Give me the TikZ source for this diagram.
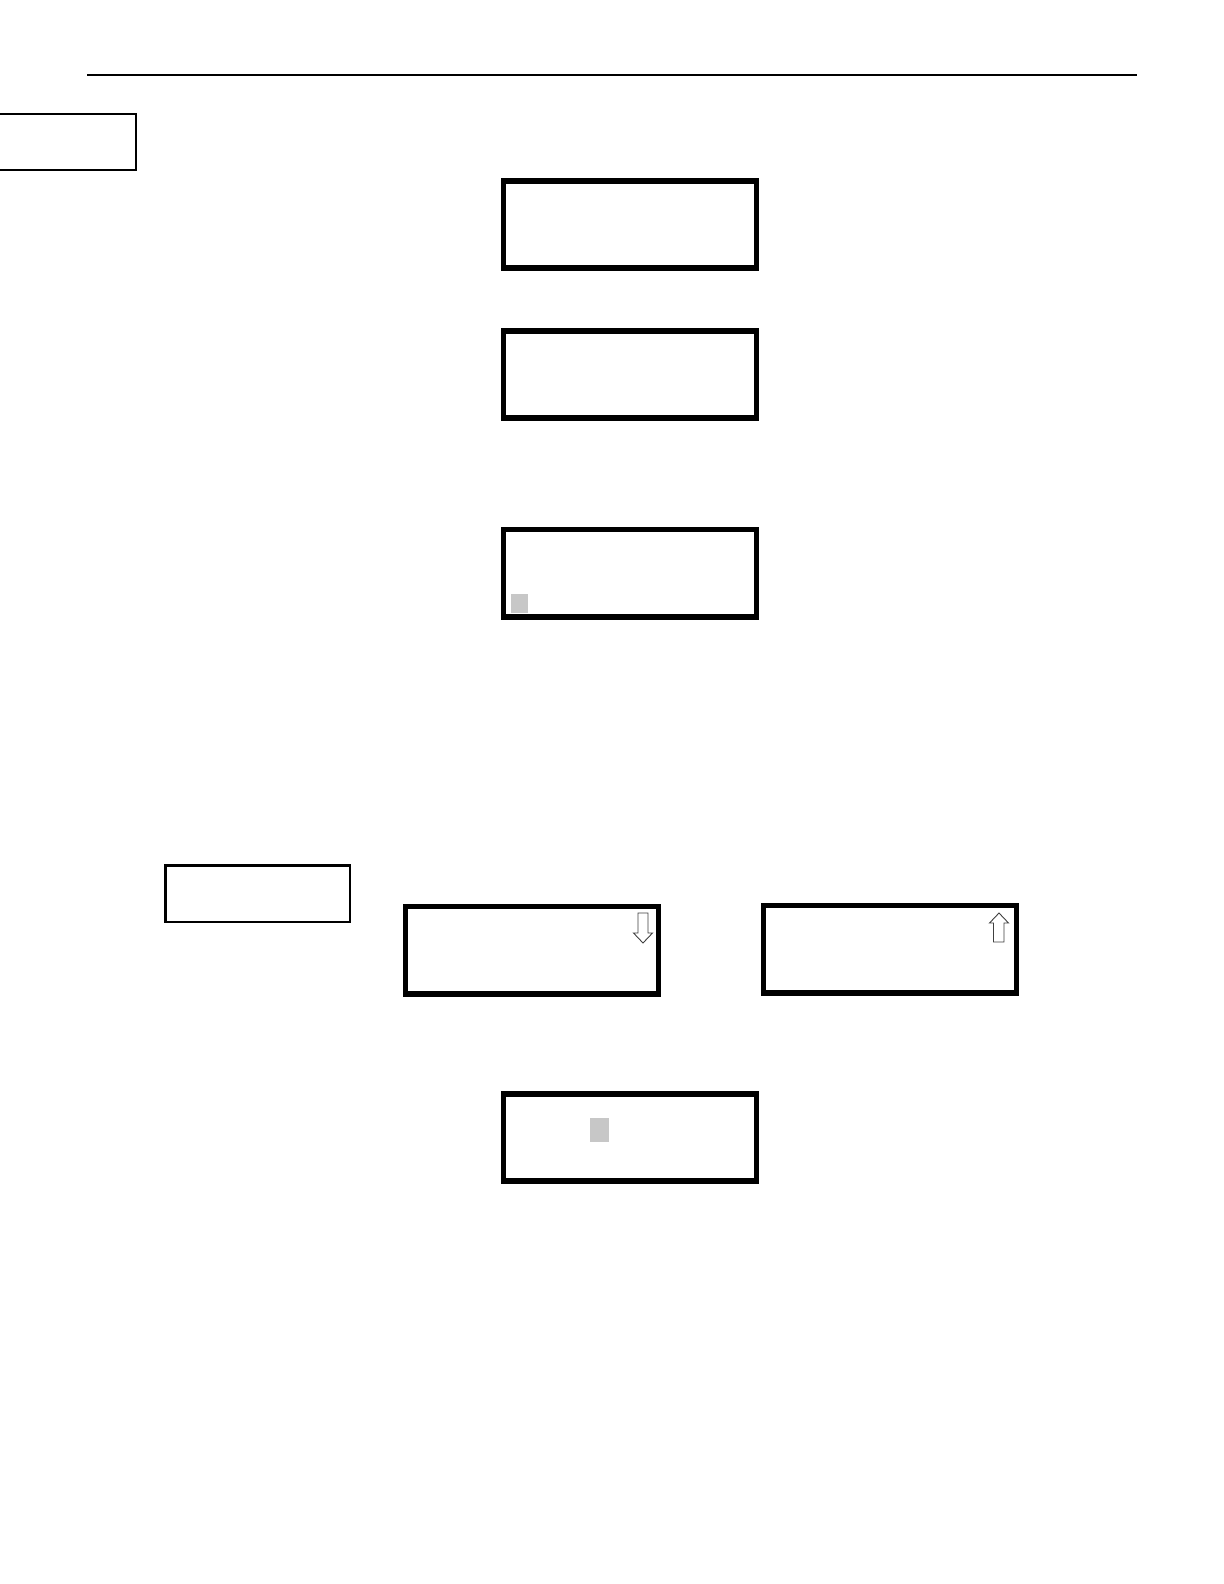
\documentclass[tikz,border=0pt]{standalone}
\usetikzlibrary{positioning}
\begin{document}
\begin{tikzpicture}[x=0.5pt,y=-0.5pt,
  screen/.style={draw=black,line width=2.85pt,minimum width=126.4pt,minimum height=43.65pt,inner sep=0pt,outer sep=0pt,fill=white},
  thinbox/.style={draw=black,line width=1.25pt,inner sep=0pt,outer sep=0pt},
  cursor/.style={fill=black!22,draw=none},
  scrollarrow/.style={draw=black!75,line width=0.45pt,fill=white,line join=miter}]
\useasboundingbox (0,0) rectangle (1224,1584);
\fill[white] (0,0) rectangle (1224,1584);
% header rule
\coordinate (ruleL) at (87,75);
\coordinate (ruleR) at (1137,75);
\draw[line width=0.75pt] (ruleL) -- (ruleR);
% side tab (left edge runs off the page)
\node[thinbox,minimum width=71.25pt,minimum height=27.75pt] (tab) at (64.5,142) {};
% screens
\node[screen] (s1) at (630,224.5) {};
\node[screen] (s2) at (630,374.5) {};
\node[screen] (s3) at (630,573) {};
\node[thinbox,minimum width=92.25pt,minimum height=28.25pt] (note) at (257.5,893.5) {};
\node[screen] (s4) at (532,950) {};
\node[screen] (s5) at (890,949) {};
\node[screen] (s6) at (630,1137.5) {};
% cursors
\fill[cursor] (511,594) rectangle (528,613);
\fill[cursor] (590,1118) rectangle (609,1142);
% scroll arrows
\draw[scrollarrow] (638,913) -- (648,913) -- (648,933) -- (652.5,933) -- (643,943) -- (633.5,933) -- (638,933) -- cycle;
\draw[scrollarrow] (993.5,942) -- (1004,942) -- (1004,923) -- (1008.5,923) -- (999,913) -- (989.5,923) -- (993.5,923) -- cycle;
\end{tikzpicture}
\end{document}
